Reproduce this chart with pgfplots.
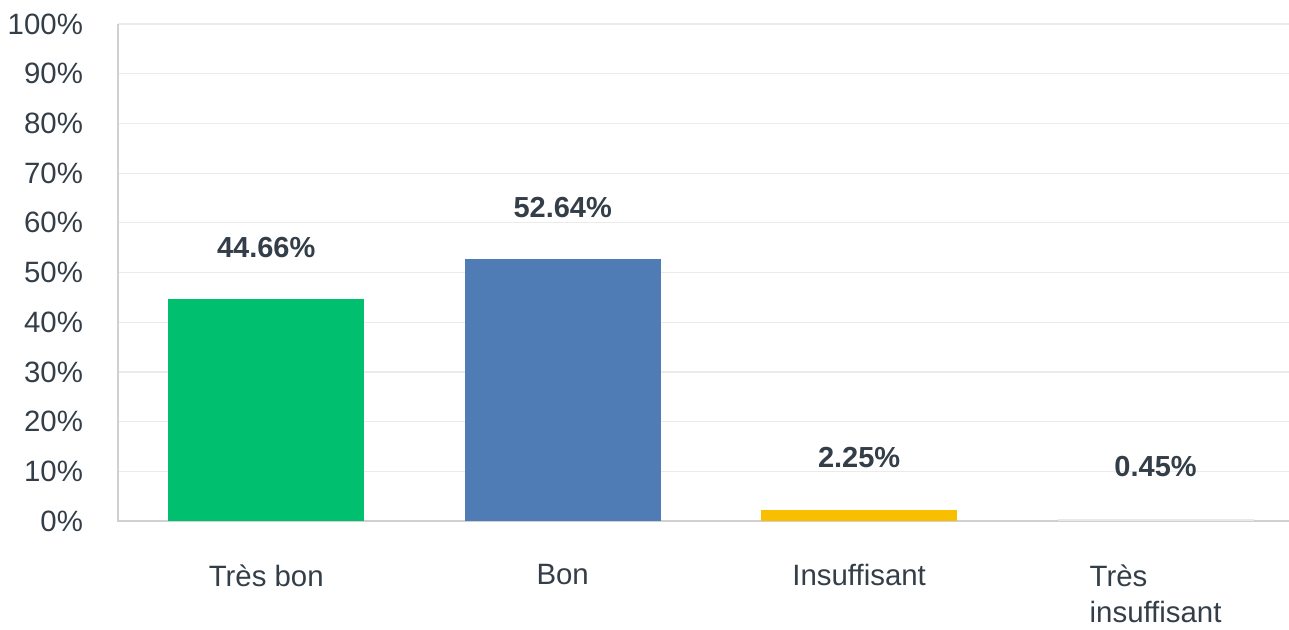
\documentclass[border=0pt]{standalone}
\usepackage{pgfplots}
\pgfplotsset{compat=1.18}
\usepackage{fontspec}
\setmainfont{Liberation Sans}
\definecolor{cgreen}{HTML}{00BF6F}
\definecolor{cblue}{HTML}{507CB6}
\definecolor{cyellow}{HTML}{F9BE00}
\definecolor{cgrey}{HTML}{E8E8E8}
\definecolor{ctext}{HTML}{333E48}
\definecolor{cgrid}{HTML}{EBEBEB}
\definecolor{caxis}{HTML}{D0D0D0}
\pgfplotsset{valstyle/.style={
  nodes near coords={\pgfmathprintnumber[fixed,fixed zerofill,precision=2,assume math mode=true]{\pgfplotspointmeta}\%},
  every node near coord/.append style={font=\bfseries\fontsize{14.5}{17}\selectfont, text=ctext, anchor=base, yshift=21pt}}}
\begin{document}
\begin{tikzpicture}
\begin{axis}[
  scale only axis,
  width=585.5pt, height=248.5pt,
  xmin=-0.5, xmax=3.45, ymin=0, ymax=100,
  xtick={0,1,2,3},
  xticklabels={Très bon,Bon,Insuffisant,{Très\\insuffisant}},
  ytick={0,10,...,100},
  yticklabels={0\%,10\%,20\%,30\%,40\%,50\%,60\%,70\%,80\%,90\%,100\%},
  major tick length=0pt,
  axis line style={draw=none},
  ymajorgrids, grid style={cgrid, line width=0.6pt},
  tick label style={font=\fontsize{14.7}{18.3}\selectfont, text=ctext},
  xticklabel style={align=left, inner sep=0pt, yshift=-21.5pt},
  yticklabel style={xshift=-14pt},
  clip=false,
]
\draw[caxis, line width=0.8pt] (rel axis cs:0,1) -- (rel axis cs:0,0) -- (rel axis cs:1,0);
\addplot[ybar, bar width=98pt, draw=none, fill=cgreen, valstyle] coordinates {(0,44.66)};
\addplot[ybar, bar width=98pt, draw=none, fill=cblue, valstyle] coordinates {(1,52.64)};
\addplot[ybar, bar width=98pt, draw=none, fill=cyellow, valstyle] coordinates {(2,2.25)};
\addplot[ybar, bar width=98pt, draw=none, fill=cgrey, valstyle] coordinates {(3,0.45)};
\end{axis}
\pgfresetboundingbox
\path ([xshift=-59pt,yshift=-54pt]current axis.south west) rectangle ([yshift=12pt]current axis.north east);
\end{tikzpicture}
\end{document}
